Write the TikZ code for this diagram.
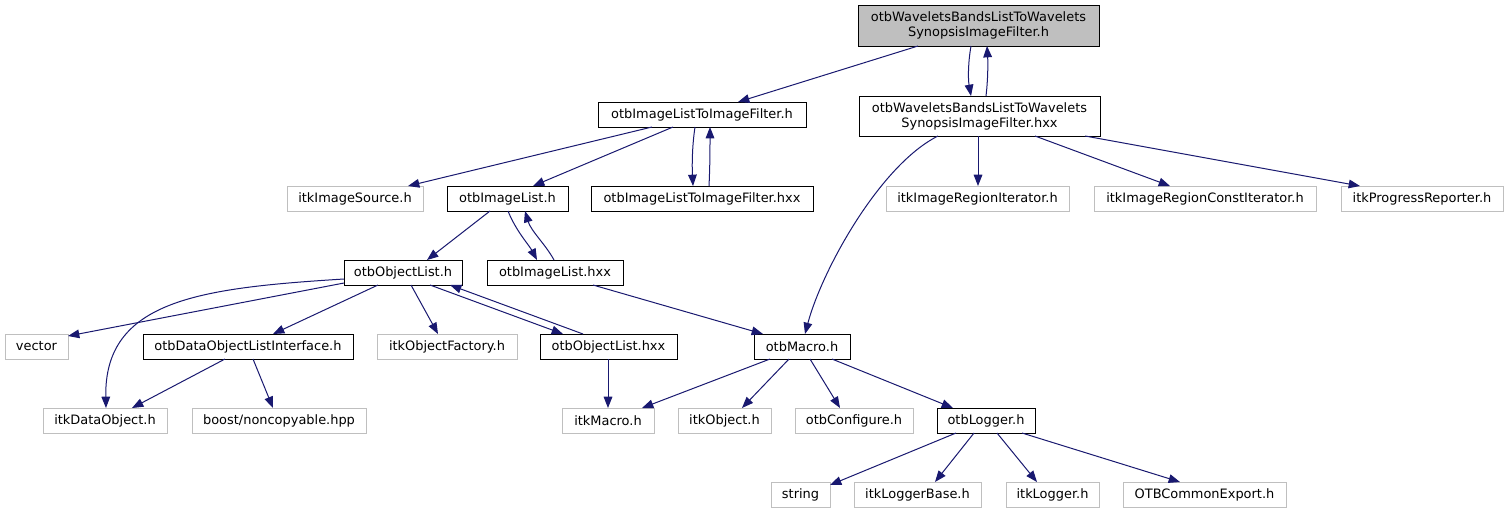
\documentclass[tikz,border=0pt]{standalone}
\usepackage{fontspec}
\setmainfont{DejaVu Sans}
\usetikzlibrary{arrows.meta,calc}
\definecolor{edgec}{HTML}{191970}
\definecolor{grayb}{HTML}{BFBFBF}
\newcommand\bx[7]{\node[#1, minimum width={(#4-#2)*0.75pt}, minimum height={(#5-#3)*0.75pt}] (#6) at ({(#2+#4)/2},{(#3+#5)/2}) {#7};}
\begin{document}
\begin{tikzpicture}[x=0.75pt,y=-0.75pt,
  font=\fontsize{9.7}{11.25}\selectfont,
  boxbase/.style={inner sep=0pt, outer sep=0pt, align=center, text=black},
  blk/.style={boxbase, draw=black, line width=0.65pt, fill=white},
  gry/.style={boxbase, draw=grayb, line width=0.75pt, fill=white},
  rootbox/.style={boxbase, draw=black, line width=0.65pt, fill=grayb},
  e/.style={draw=edgec, line width=0.75pt, -{Triangle[length=8.5pt,width=6.5pt]}}]
\fill[white] (0,0) rectangle (1509,515);
\useasboundingbox (0,0) rectangle (1509,515);
% nodes
\bx{rootbox}{858}{5}{1099}{46}{root}{otbWaveletsBandsListToWavelets\\SynopsisImageFilter.h}
\bx{blk}{598}{102}{806}{127}{iltif}{otbImageListToImageFilter.h}
\bx{blk}{859}{96}{1100}{136}{whxx}{otbWaveletsBandsListToWavelets\\SynopsisImageFilter.hxx}
\bx{gry}{287}{186}{423}{211}{isrc}{itkImageSource.h}
\bx{blk}{447}{186}{568}{211}{il}{otbImageList.h}
\bx{blk}{591}{186}{813}{211}{iltifx}{otbImageListToImageFilter.hxx}
\bx{gry}{886}{186}{1069}{211}{iri}{itkImageRegionIterator.h}
\bx{gry}{1094}{186}{1316}{211}{irci}{itkImageRegionConstIterator.h}
\bx{gry}{1341}{186}{1503}{211}{ipr}{itkProgressReporter.h}
\bx{blk}{344}{260}{462}{285}{ol}{otbObjectList.h}
\bx{blk}{487}{260}{623}{285}{ilx}{otbImageList.hxx}
\bx{gry}{5}{334}{68}{359}{vec}{vector}
\bx{blk}{143}{334}{353}{359}{doli}{otbDataObjectListInterface.h}
\bx{gry}{377}{334}{517}{359}{iof}{itkObjectFactory.h}
\bx{blk}{540}{334}{677}{359}{olx}{otbObjectList.hxx}
\bx{blk}{754}{334}{850}{359}{mac}{otbMacro.h}
\bx{gry}{43}{408}{167}{433}{ido}{itkDataObject.h}
\bx{gry}{192}{408}{366}{433}{bnc}{boost/noncopyable.hpp}
\bx{gry}{562}{408}{654}{433}{imac}{itkMacro.h}
\bx{gry}{678}{408}{771}{433}{iobj}{itkObject.h}
\bx{gry}{795}{408}{913}{433}{ocfg}{otbConfigure.h}
\bx{blk}{937}{408}{1035}{433}{olog}{otbLogger.h}
\bx{gry}{771}{482}{830}{507}{str}{string}
\bx{gry}{854}{482}{981}{507}{ilb}{itkLoggerBase.h}
\bx{gry}{1006}{482}{1099}{507}{ilg}{itkLogger.h}
\bx{gry}{1123}{482}{1286}{507}{oce}{OTBCommonExport.h}
% edges
\draw[e] ($(root.south west)+(60,0)$) -- ($(iltif.north west)+(140,0)$);
\draw[e] ($(root.south west)+(113,0)$) .. controls +(-3,17) and +(-3,-17) .. ($(whxx.north west)+(112,0)$);
\draw[e] ($(whxx.north west)+(127,0)$) .. controls +(2,-17) and +(1,17) .. ($(root.south west)+(129,0)$);
\draw[e] ($(iltif.south west)+(54,0)$) -- ($(isrc.north west)+(121,0)$);
\draw[e] ($(iltif.south west)+(75,0)$) -- ($(il.north west)+(86,0)$);
\draw[e] ($(iltif.south west)+(97,0)$) .. controls +(-3,20) and +(-1,-20) .. ($(iltifx.north west)+(102,0)$);
\draw[e] ($(iltifx.north west)+(118,0)$) .. controls +(1,-20) and +(0,20) .. ($(iltif.south west)+(112,0)$);
\draw[e] ($(whxx.south west)+(79,0)$) .. controls +(-58,29) and +(17,-64) .. ($(mac.north west)+(51,0)$);
\draw[e] ($(whxx.south west)+(119,0)$) -- ($(iri.north west)+(92,0)$);
\draw[e] ($(whxx.south west)+(176,0)$) -- ($(irci.north west)+(76,0)$);
\draw[e] ($(whxx.south west)+(226,0)$) -- ($(ipr.north west)+(19,0)$);
\draw[e] ($(il.south west)+(43,0)$) -- ($(ol.north west)+(83,0)$);
\draw[e] ($(il.south west)+(61,0)$) .. controls +(8,20) and +(-8,-15) .. ($(ilx.north west)+(50,0)$);
\draw[e] ($(ilx.north west)+(67,0)$) .. controls +(-8,-15) and +(6,20) .. ($(il.south west)+(78,0)$);
\draw[e] ($(ilx.south west)+(106,0)$) -- ($(mac.north west)+(9,0)$);
\draw[e] ($(ol.south west)+(0,-2)$) -- ($(vec.north east)+(0,2)$);
\draw[e] ($(ol.south west)+(0,-6)$) .. controls +(-144,9) and +(-2,-108) .. ($(ido.north west)+(63,0)$);
\draw[e] ($(ol.south west)+(34,0)$) -- ($(doli.north west)+(130,0)$);
\draw[e] ($(ol.south west)+(67,0)$) -- ($(iof.north west)+(61,0)$);
\draw[e] ($(ol.south west)+(86,0)$) -- ($(olx.north west)+(23,0)$);
\draw[e] ($(olx.north west)+(43,0)$) -- ($(ol.south west)+(106,0)$);
\draw[e] ($(doli.south west)+(82,0)$) -- ($(ido.north west)+(89,0)$);
\draw[e] ($(doli.south west)+(110,0)$) -- ($(bnc.north west)+(81,0)$);
\draw[e] ($(olx.south west)+(68,0)$) -- ($(imac.north west)+(46,0)$);
\draw[e] ($(mac.south west)+(16,0)$) -- ($(imac.north west)+(80,0)$);
\draw[e] ($(mac.south west)+(35,0)$) -- ($(iobj.north west)+(64,0)$);
\draw[e] ($(mac.south west)+(56,0)$) -- ($(ocfg.north west)+(45,0)$);
\draw[e] ($(mac.south west)+(78,0)$) -- ($(olog.north west)+(16,0)$);
\draw[e] ($(olog.south west)+(19,0)$) -- ($(str.north east)+(0,3)$);
\draw[e] ($(olog.south west)+(37,0)$) -- ($(ilb.north west)+(81,0)$);
\draw[e] ($(olog.south west)+(60,0)$) -- ($(ilg.north west)+(31,0)$);
\draw[e] ($(olog.south west)+(85,0)$) -- ($(oce.north west)+(57,0)$);
\end{tikzpicture}
\end{document}
